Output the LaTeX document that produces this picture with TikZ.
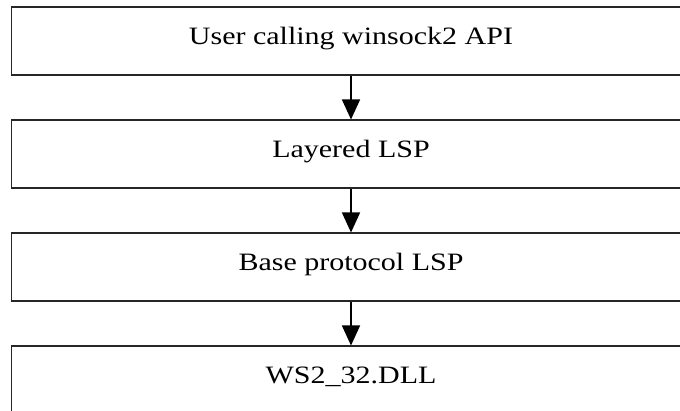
\documentclass[tikz,border=0pt]{standalone}
\usepackage{fontspec}
\setmainfont{Liberation Serif}[FakeStretch=1.2]
\usetikzlibrary{arrows.meta}
\begin{document}
\begin{tikzpicture}[x=1pt,y=-1pt,
  layerbox/.style={draw=black!85, line width=1.8pt, minimum width=679pt, minimum height=68pt, inner sep=0pt, anchor=north},
  layertext/.style={anchor=base, inner sep=0pt, font=\fontsize{25}{30}\selectfont},
  flow/.style={line width=1.4pt, -{Triangle[width=18pt,length=20pt]}}]
\useasboundingbox (0,0) rectangle (680,411);
\clip (0,0) rectangle (680,411);
\node[layerbox] (b1) at (351,6.5) {};
\node[layerbox] (b2) at (351,119.5) {};
\node[layerbox] (b3) at (351,232.5) {};
\node[layerbox] (b4) at (351,345.5) {};
\node[layertext] (t1) at (351,45) {User calling winsock2 API};
\node[layertext] (t2) at (351,158) {Layered LSP};
\node[layertext] (t3) at (351,271) {Base protocol LSP};
\node[layertext] (t4) at (351,384) {WS2\_32.DLL};
\draw[flow] (b1.south) -- (b2.north);
\draw[flow] (b2.south) -- (b3.north);
\draw[flow] (b3.south) -- (b4.north);
\end{tikzpicture}
\end{document}
